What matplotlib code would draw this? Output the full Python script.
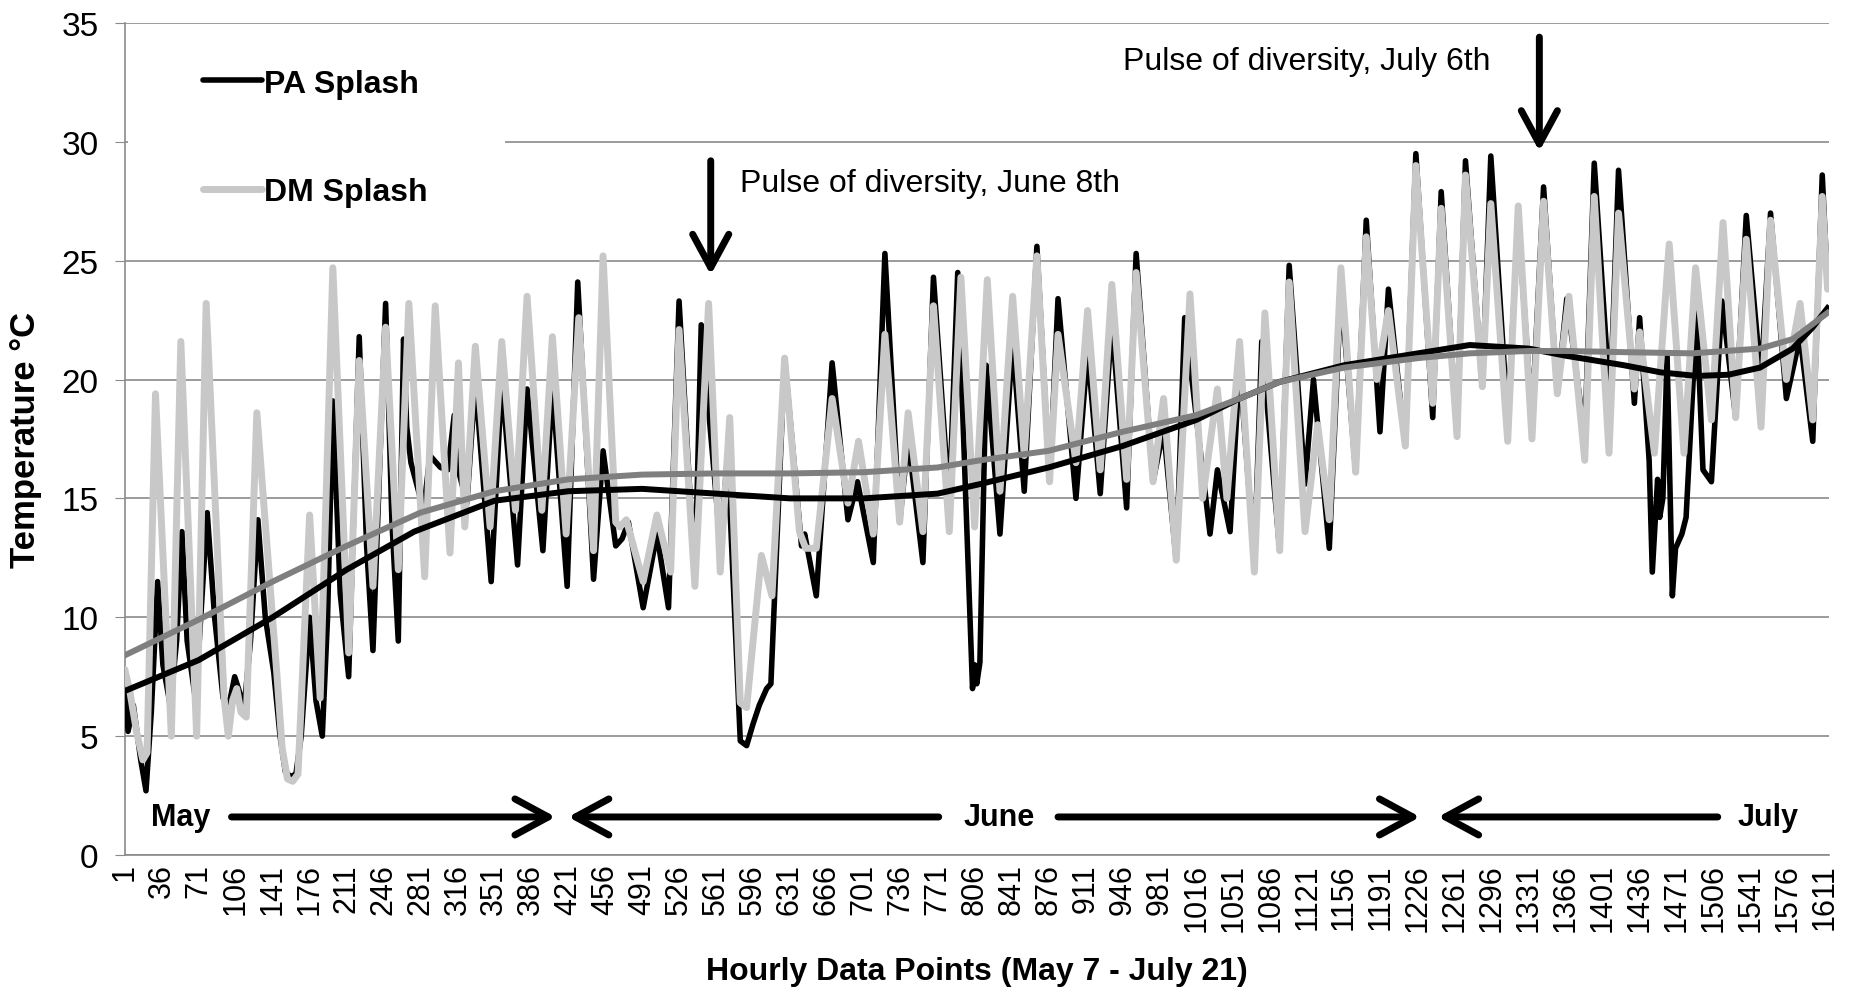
import matplotlib
matplotlib.use("Agg")
import matplotlib.pyplot as plt
from matplotlib.patches import Rectangle

plt.rcParams['font.family'] = ['Liberation Sans', 'DejaVu Sans']

# hourly temperature as (hour index, deg C) turning points
pa_splash = [
    (1, 7.5), (4, 5.2), (9, 6.3), (16, 4.0), (21, 2.7), (26, 6), (32, 11.5), (37, 8), (44, 6.3), (50, 9),
    (55, 13.6), (60, 9), (68, 6.5), (79, 14.4), (86, 10), (94, 6.6), (100, 6.4), (105, 7.5), (110, 6.8),
    (114, 6.2), (120, 9), (127, 14.1), (134, 10), (142, 7.7), (148, 5), (153, 3.5), (158, 3.3), (163, 3.4),
    (168, 5), (176, 10.0), (182, 6.5), (188, 5.0), (193, 10), (198, 19.1), (205, 11), (213, 7.5),
    (223, 21.8), (230, 13), (236, 8.6), (248, 23.2), (254, 14), (260, 9.0), (265, 21.7), (268, 18),
    (272, 16.5), (284, 14.5), (290, 16.8), (300, 16.3), (307, 16.2), (313, 18.5), (318, 16), (325, 14.8),
    (333, 19.9), (348, 11.5), (358, 19.9), (373, 12.2), (382, 19.6), (397, 12.8), (406, 19.7), (420, 11.3),
    (430, 24.1), (445, 11.6), (454, 17), (466, 13), (472, 13.3), (478, 14), (492, 10.4), (505, 13.5),
    (516, 10.4), (526, 23.3), (541, 11.5), (547, 22.3), (565, 13.1), (572, 16.8), (584, 4.8), (590, 4.6),
    (596, 5.5), (602, 6.3), (609, 7.0), (613, 7.2), (626, 20.9), (642, 13.0), (645, 13.5), (656, 10.9),
    (671, 20.7), (686, 14.1), (695, 15.7), (710, 12.3), (721, 25.3), (735, 14), (743, 17.5), (757, 12.3),
    (767, 24.3), (782, 14.8), (790, 24.5), (804, 7.0), (806, 8.0), (808, 7.2), (811, 8.1), (817, 20.6),
    (830, 13.5), (842, 21.6), (853, 15.3), (865, 25.6), (877, 15.7), (885, 23.4), (902, 15.0), (913, 21.2),
    (925, 15.2), (936, 22.4), (950, 14.6), (959, 25.3), (975, 15.7), (985, 17.9), (997, 12.4), (1005, 22.6),
    (1029, 13.5), (1036, 16.2), (1048, 13.6), (1057, 20.6), (1071, 12.4), (1078, 21.6), (1095, 12.8),
    (1104, 24.8), (1119, 15.6), (1127, 20.0), (1142, 12.9), (1153, 23.8), (1167, 16.1), (1177, 26.7),
    (1190, 17.8), (1198, 23.8), (1214, 17.2), (1224, 29.5), (1240, 18.4), (1248, 27.9), (1263, 17.6),
    (1271, 29.2), (1287, 19.7), (1295, 29.4), (1311, 18.3), (1321, 26.7), (1334, 18.3), (1345, 28.1),
    (1358, 19.4), (1367, 23.4), (1384, 17.6), (1393, 29.1), (1408, 19.0), (1416, 28.8), (1431, 19.0),
    (1436, 22.6), (1445, 16.6), (1448, 11.9), (1453, 15.8), (1455, 14.2), (1458, 15), (1462, 21),
    (1467, 10.9), (1470, 12.9), (1476, 13.5), (1480, 14.2), (1490, 22.8), (1496, 16.2), (1504, 15.7),
    (1514, 23.3), (1527, 18.4), (1537, 26.9), (1551, 20.0), (1560, 27.0), (1575, 19.2), (1588, 21.8),
    (1600, 17.4), (1609, 28.6), (1614, 24.0),
]

dm_splash = [
    (1, 7.8), (6, 6.8), (12, 5.2), (18, 4.0), (22, 4.3), (30, 19.4), (45, 5.0), (54, 21.6), (69, 5.0),
    (78, 23.2), (95, 6.6), (99, 5.0), (103, 6.5), (107, 7.0), (111, 6.0), (116, 5.8), (126, 18.6),
    (145, 7.6), (150, 4.5), (155, 3.2), (160, 3.1), (165, 3.4), (176, 14.3), (186, 6.6), (198, 24.7),
    (213, 8.5), (223, 20.8), (236, 11.3), (248, 22.2), (260, 12), (270, 23.2), (285, 11.7), (295, 23.1),
    (309, 12.7), (317, 20.7), (323, 13.8), (333, 21.4), (347, 13.8), (358, 21.6), (371, 14.5), (382, 23.5),
    (396, 14.5), (406, 21.8), (419, 13.5), (431, 22.6), (445, 12.8), (454, 25.2), (466, 14), (470, 13.8),
    (476, 14.1), (492, 11.5), (505, 14.3), (518, 11.9), (526, 22.1), (541, 11.3), (554, 23.2), (565, 11.9),
    (574, 18.4), (584, 6.4), (590, 6.2), (604, 12.6), (614, 10.9), (626, 20.9), (640, 13.6), (646, 12.9),
    (656, 12.9), (671, 19.2), (686, 14.8), (696, 17.4), (710, 13.5), (721, 21.9), (735, 14.0), (743, 18.6),
    (757, 13.6), (767, 23.1), (782, 13.6), (793, 24.3), (806, 13.8), (818, 24.2), (830, 15.3), (842, 23.5),
    (853, 16.8), (865, 25.2), (877, 15.7), (885, 21.9), (902, 16.5), (913, 22.9), (925, 16.2), (936, 24.0),
    (950, 15.8), (959, 24.5), (975, 15.7), (985, 19.2), (997, 12.4), (1010, 23.6), (1022, 15.0),
    (1036, 19.6), (1045, 15.0), (1057, 21.6), (1071, 11.9), (1081, 22.8), (1095, 12.8), (1104, 24.1),
    (1119, 13.6), (1131, 18.1), (1142, 14.1), (1153, 24.7), (1167, 16.1), (1177, 26.0), (1187, 20.0),
    (1198, 22.9), (1214, 17.2), (1224, 29.0), (1240, 19.0), (1248, 27.2), (1263, 17.6), (1271, 28.6),
    (1287, 19.7), (1295, 27.4), (1311, 17.4), (1321, 27.3), (1334, 17.5), (1345, 27.5), (1358, 19.4),
    (1369, 23.5), (1384, 16.6), (1393, 27.7), (1407, 16.9), (1416, 27.0), (1431, 19.6), (1436, 22.0),
    (1450, 16.9), (1464, 25.7), (1478, 16.9), (1489, 24.7), (1504, 18.3), (1515, 26.6), (1527, 18.4),
    (1537, 25.9), (1551, 18.0), (1560, 26.7), (1575, 20.0), (1588, 23.2), (1600, 18.3), (1609, 27.7),
    (1614, 23.8),
]

# trend curves
pa_trend = [
    (1, 6.9), (71, 8.2), (141, 10.0), (211, 12.0), (275, 13.6), (351, 14.9), (421, 15.3), (491, 15.4),
    (561, 15.2), (631, 15.0), (701, 15.0), (771, 15.2), (811, 15.6), (876, 16.3), (946, 17.2), (1016, 18.3),
    (1057, 19.2), (1095, 19.9), (1156, 20.6), (1226, 21.1), (1275, 21.45), (1331, 21.3), (1366, 21.0),
    (1421, 20.6), (1456, 20.3), (1490, 20.15), (1520, 20.2), (1550, 20.5), (1581, 21.3), (1600, 22.2),
    (1614, 23.0),
]
dm_trend = [
    (1, 8.4), (71, 9.9), (141, 11.5), (211, 13.0), (281, 14.4), (351, 15.3), (421, 15.8), (491, 16.0),
    (561, 16.05), (631, 16.05), (701, 16.1), (771, 16.3), (811, 16.6), (876, 17.0), (946, 17.8),
    (1016, 18.5), (1057, 19.2), (1095, 19.9), (1156, 20.5), (1226, 20.9), (1275, 21.1), (1331, 21.2),
    (1366, 21.2), (1421, 21.15), (1486, 21.1), (1550, 21.3), (1581, 21.7), (1614, 22.8),
]

x_ticks = list(range(1, 1612, 35))
y_ticks = [0, 5, 10, 15, 20, 25, 30, 35]

fig = plt.figure(figsize=(18.64, 9.95), dpi=100)
ax = fig.add_axes([0.067, 0.1397, 0.914, 0.8363])

ax.plot(*zip(*pa_splash), color='black', lw=4.0, label='PA Splash', zorder=3,
        solid_joinstyle='round', solid_capstyle='round')
ax.plot(*zip(*dm_splash), color='#c8c8c8', lw=5.0, label='DM Splash', zorder=4,
        solid_joinstyle='round', solid_capstyle='round')
ax.plot(*zip(*pa_trend), color='black', lw=4.3, zorder=5)
ax.plot(*zip(*dm_trend), color='#7f7f7f', lw=4.3, zorder=6)

ax.set_xlim(1, 1615)
ax.set_ylim(0, 35)
ax.set_xticks(x_ticks)
ax.set_xticklabels([str(t) for t in x_ticks], rotation=90, fontsize=22)
ax.set_yticks(y_ticks)
ax.tick_params(axis='y', labelsize=24, length=7, color='#8a8a8a', direction='out', pad=12)
ax.tick_params(axis='x', length=0, pad=6)

ax.set_axisbelow(True)
ax.grid(axis='y', color='#8a8a8a', lw=1.2)
for s in ['top', 'right']:
    ax.spines[s].set_visible(False)
for s in ['left', 'bottom']:
    ax.spines[s].set_color('#8a8a8a')
    ax.spines[s].set_linewidth(1.2)

ax.set_ylabel('Temperature °C', fontsize=25, fontweight='bold', labelpad=14)
ax.set_xlabel('Hourly Data Points (May 7 - July 21)', fontsize=23, fontweight='bold', labelpad=18)

# white box behind the legend hides part of the 30 gridline
ax.add_patch(Rectangle((0.002, 26.6 / 35), 0.221, 8.0 / 35, transform=ax.transAxes,
                       facecolor='white', edgecolor='none', zorder=1))
ax.legend(loc='upper left', bbox_to_anchor=(0.046, 0.945), frameon=False,
          prop={'size': 23, 'weight': 'bold'}, handlelength=1.85, handletextpad=0.05,
          labelspacing=2.45, borderpad=0, borderaxespad=0)

arrow_kw = dict(arrowstyle='->, head_length=1.2, head_width=0.65', color='black', lw=5,
                mutation_scale=20, shrinkA=0, shrinkB=0, capstyle='round', joinstyle='round')

# pulse annotations
ax.annotate('', xy=(556, 24.4), xytext=(556, 29.2), arrowprops=arrow_kw)
ax.text(584, 28.25, 'Pulse of diversity, June 8th', fontsize=23, va='center', ha='left')
ax.annotate('', xy=(1341, 29.6), xytext=(1341, 34.4), arrowprops=arrow_kw, annotation_clip=False)
ax.text(947, 33.4, 'Pulse of diversity, July 6th', fontsize=23, va='center', ha='left')

# month spans
month_y = 1.6
ax.annotate('', xy=(409, month_y), xytext=(102, month_y), arrowprops=arrow_kw)
ax.annotate('', xy=(421, month_y), xytext=(772, month_y), arrowprops=arrow_kw)
ax.annotate('', xy=(1228, month_y), xytext=(885, month_y), arrowprops=arrow_kw)
ax.annotate('', xy=(1245, month_y), xytext=(1510, month_y), arrowprops=arrow_kw)
for name, h in [('May', 54), ('June', 829), ('July', 1558)]:
    ax.text(h, month_y, name, fontsize=22, fontweight='bold', ha='center', va='center')

fig.savefig('out.png', dpi=100)
